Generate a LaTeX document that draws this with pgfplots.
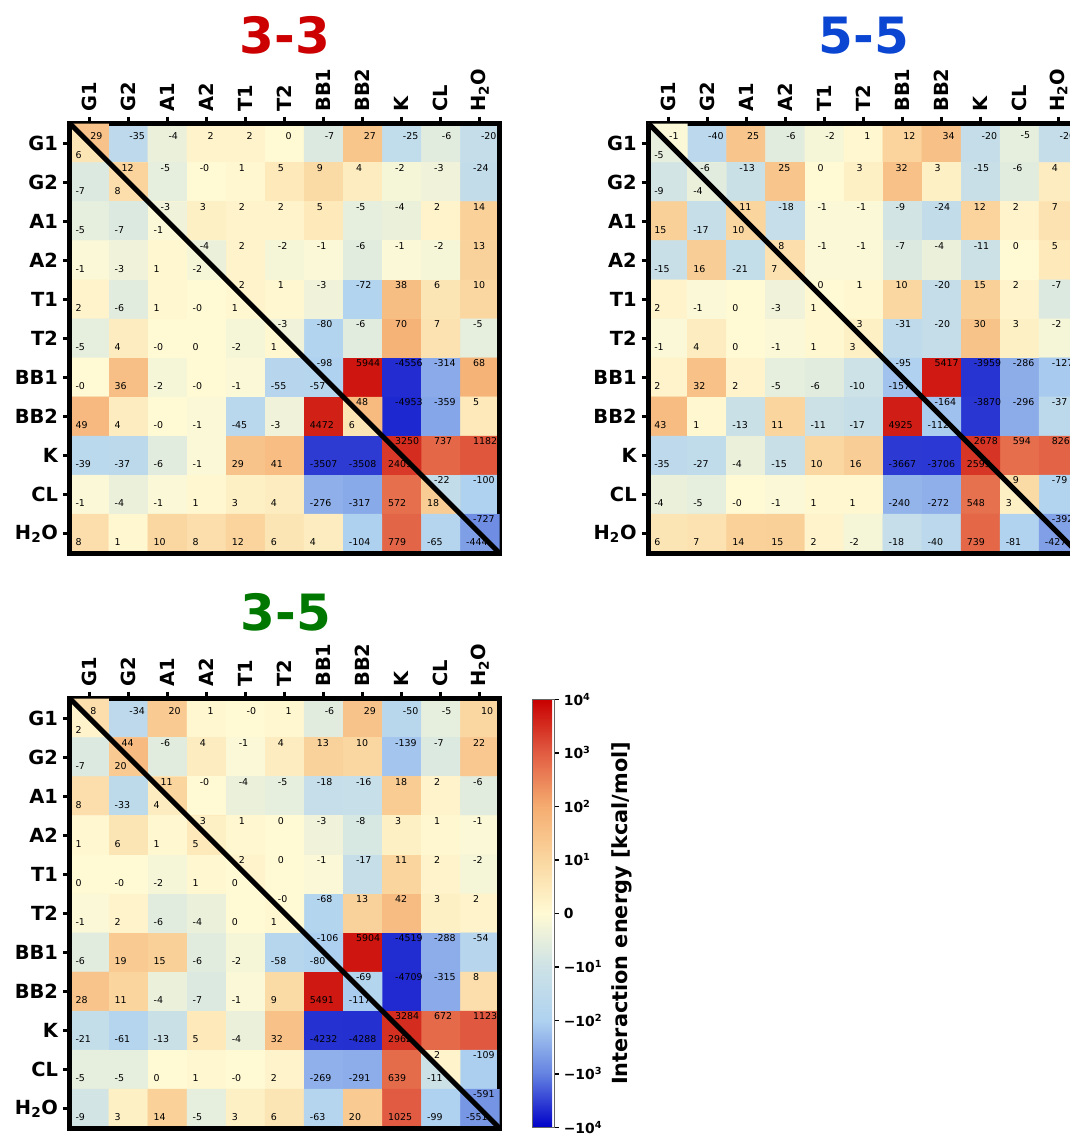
\documentclass[border=0pt]{standalone}
\usepackage{fontspec}
\setmainfont{DejaVu Sans}
\usepackage{pgfplots}
\usepackage{pgfplotstable}
\pgfplotsset{compat=1.18}

\definecolor{c33}{RGB}{204,0,0}
\definecolor{c55}{RGB}{10,70,210}
\definecolor{c35}{RGB}{0,120,0}

\pgfdeclareplotmark{utri}{%
 \pgfpathmoveto{\pgfqpoint{-14.0625pt}{14.0625pt}}%
 \pgfpathlineto{\pgfqpoint{14.0625pt}{14.0625pt}}%
 \pgfpathlineto{\pgfqpoint{14.0625pt}{-14.0625pt}}%
 \pgfpathclose\pgfusepathqfill}

\def\symlog#1{ifthenelse(abs(#1)<10,(#1)/10,(#1)/max(abs(#1),1)*(1+log10(max(abs(#1),1)/10)))}
\def\RR{floor((\coordindex+0.5)/11)}
\def\CC{(\coordindex-11*floor((\coordindex+0.5)/11))}

% ---- 3-3 : cells (diagonal = lower value), row by row
\pgfplotstableread[row sep=\\]{
v\\
6\\ -35\\ -4\\ 2\\ 2\\ 0\\ -7\\ 27\\ -25\\ -6\\ -20\\
-7\\ 8\\ -5\\ -0\\ 1\\ 5\\ 9\\ 4\\ -2\\ -3\\ -24\\
-5\\ -7\\ -1\\ 3\\ 2\\ 2\\ 5\\ -5\\ -4\\ 2\\ 14\\
-1\\ -3\\ 1\\ -2\\ 2\\ -2\\ -1\\ -6\\ -1\\ -2\\ 13\\
2\\ -6\\ 1\\ -0\\ 1\\ 1\\ -3\\ -72\\ 38\\ 6\\ 10\\
-5\\ 4\\ -0\\ 0\\ -2\\ 1\\ -80\\ -6\\ 70\\ 7\\ -5\\
-0\\ 36\\ -2\\ -0\\ -1\\ -55\\ -57\\ 5944\\ -4556\\ -314\\ 68\\
49\\ 4\\ -0\\ -1\\ -45\\ -3\\ 4472\\ 6\\ -4953\\ -359\\ 5\\
-39\\ -37\\ -6\\ -1\\ 29\\ 41\\ -3507\\ -3508\\ 2409\\ 737\\ 1182\\
-1\\ -4\\ -1\\ 1\\ 3\\ 4\\ -276\\ -317\\ 572\\ 18\\ -100\\
8\\ 1\\ 10\\ 8\\ 12\\ 6\\ 4\\ -104\\ 779\\ -65\\ -444\\
}\MA
\pgfplotstableread[row sep=\\]{
u\\ 29\\ 12\\ -3\\ -4\\ 2\\ -3\\ -98\\ 48\\ 3250\\ -22\\ -727\\
}\DA

% ---- 5-5
\pgfplotstableread[row sep=\\]{
v\\
-5\\ -40\\ 25\\ -6\\ -2\\ 1\\ 12\\ 34\\ -20\\ -5\\ -20\\
-9\\ -4\\ -13\\ 25\\ 0\\ 3\\ 32\\ 3\\ -15\\ -6\\ 4\\
15\\ -17\\ 10\\ -18\\ -1\\ -1\\ -9\\ -24\\ 12\\ 2\\ 7\\
-15\\ 16\\ -21\\ 7\\ -1\\ -1\\ -7\\ -4\\ -11\\ 0\\ 5\\
2\\ -1\\ 0\\ -3\\ 1\\ 1\\ 10\\ -20\\ 15\\ 2\\ -7\\
-1\\ 4\\ 0\\ -1\\ 1\\ 3\\ -31\\ -20\\ 30\\ 3\\ -2\\
2\\ 32\\ 2\\ -5\\ -6\\ -10\\ -157\\ 5417\\ -3959\\ -286\\ -127\\
43\\ 1\\ -13\\ 11\\ -11\\ -17\\ 4925\\ -112\\ -3870\\ -296\\ -37\\
-35\\ -27\\ -4\\ -15\\ 10\\ 16\\ -3667\\ -3706\\ 2593\\ 594\\ 826\\
-4\\ -5\\ -0\\ -1\\ 1\\ 1\\ -240\\ -272\\ 548\\ 3\\ -79\\
6\\ 7\\ 14\\ 15\\ 2\\ -2\\ -18\\ -40\\ 739\\ -81\\ -427\\
}\MB
\pgfplotstableread[row sep=\\]{
u\\ -1\\ -6\\ 11\\ 8\\ 0\\ 3\\ -95\\ -164\\ 2678\\ 9\\ -392\\
}\DB

% ---- 3-5
\pgfplotstableread[row sep=\\]{
v\\
2\\ -34\\ 20\\ 1\\ -0\\ 1\\ -6\\ 29\\ -50\\ -5\\ 10\\
-7\\ 20\\ -6\\ 4\\ -1\\ 4\\ 13\\ 10\\ -139\\ -7\\ 22\\
8\\ -33\\ 4\\ -0\\ -4\\ -5\\ -18\\ -16\\ 18\\ 2\\ -6\\
1\\ 6\\ 1\\ 5\\ 1\\ 0\\ -3\\ -8\\ 3\\ 1\\ -1\\
0\\ -0\\ -2\\ 1\\ 0\\ 0\\ -1\\ -17\\ 11\\ 2\\ -2\\
-1\\ 2\\ -6\\ -4\\ 0\\ 1\\ -68\\ 13\\ 42\\ 3\\ 2\\
-6\\ 19\\ 15\\ -6\\ -2\\ -58\\ -80\\ 5904\\ -4519\\ -288\\ -54\\
28\\ 11\\ -4\\ -7\\ -1\\ 9\\ 5491\\ -117\\ -4709\\ -315\\ 8\\
-21\\ -61\\ -13\\ 5\\ -4\\ 32\\ -4232\\ -4288\\ 2962\\ 672\\ 1123\\
-5\\ -5\\ 0\\ 1\\ -0\\ 2\\ -269\\ -291\\ 639\\ -11\\ -109\\
-9\\ 3\\ 14\\ -5\\ 3\\ 6\\ -63\\ 20\\ 1025\\ -99\\ -551\\
}\MC
\pgfplotstableread[row sep=\\]{
u\\ 8\\ 44\\ 11\\ 3\\ 2\\ -0\\ -106\\ -69\\ 3284\\ 2\\ -591\\
}\DC

\pgfplotsset{
 hm/.style={
  scale only axis, width=309.38pt, height=309.38pt,
  xmin=-0.5, xmax=10.5, ymin=-0.5, ymax=10.5, y dir=reverse,
  axis on top, clip=false,
  xtick={0,...,10}, ytick={0,...,10},
  xticklabels={G1,G2,A1,A2,T1,T2,BB1,BB2,K,CL,H\textsubscript{2}O},
  yticklabels={G1,G2,A1,A2,T1,T2,BB1,BB2,K,CL,H\textsubscript{2}O},
  xtick pos=upper, xticklabel pos=upper, ytick pos=left, yticklabel pos=left,
  tick align=outside, major tick length=5pt,
  tick style={black, line width=2.2pt},
  axis line style={line width=3.4pt},
  x tick label style={rotate=90, anchor=west, font=\bfseries\fontsize{14}{16}\selectfont},
  y tick label style={font=\bfseries\fontsize{14}{16}\selectfont},
 },
 every axis/.append style={
  colormap={sl}{rgb255(0cm)=(0,0,200); rgb255(1cm)=(100,130,225); rgb255(2cm)=(175,210,240); rgb255(3cm)=(205,226,230); rgb255(4cm)=(255,250,212); rgb255(5cm)=(250,215,160); rgb255(6cm)=(245,172,112); rgb255(7cm)=(225,92,66); rgb255(8cm)=(200,0,0)},
  point meta min=-4, point meta max=4,
 },
 lbl/.style={draw=none, mark=none, nodes near coords, point meta=explicit symbolic,
  nodes near coords style={anchor=west, inner sep=0pt, font=\fontsize{6.8}{8}\selectfont, text=black}},
}

\newcommand\heat[2]{%
 \addplot[matrix plot*, mesh/cols=11, shader=faceted, faceted color=mapped color, line width=0.3pt,
   point meta={\symlog{\thisrow{v}}}]
   table[x index=0, y index=0, x expr={\CC}, y expr={\RR}] {#1};
 \addplot[scatter, only marks, mark=utri, scatter/use mapped color={fill=mapped color, draw=none},
   point meta={\symlog{\thisrow{u}}}]
   table[x index=0, y index=0, x expr={\coordindex}, y expr={\coordindex}] {#2};
 \addplot[lbl] table[x index=0, y index=0, meta=v,
   x expr={\CC-0.5+ifthenelse(\CC>\RR, ifthenelse(\coordindex<11,0.52,0.32), 0.14)},
   y expr={\RR-0.5+ifthenelse(\CC>\RR, ifthenelse(\coordindex<11,0.31,0.13), ifthenelse(\coordindex<11,0.81,0.72))}] {#1};
 \addplot[lbl] table[x index=0, y index=0, meta=u,
   x expr={\coordindex-0.5+ifthenelse(\coordindex<1,0.52,0.32)},
   y expr={\coordindex-0.5+ifthenelse(\coordindex<1,0.31,0.13)}] {#2};
}

\begin{document}
\begin{tikzpicture}
\begin{axis}[hm, name=A, at={(50.26pt,-88.92pt)}, anchor=north west]
\heat{\MA}{\DA}
\end{axis}
\draw[line width=3.6pt] (A.north west) -- (A.south east);
\begin{axis}[hm, name=B, at={(466.92pt,-88.92pt)}, anchor=north west]
\heat{\MB}{\DB}
\end{axis}
\draw[line width=3.6pt] (B.north west) -- (B.south east);
\begin{axis}[hm, name=C, at={(50.26pt,-502.92pt)}, anchor=north west,
  colorbar,
  colorbar style={
   at={(parent axis.north east)}, anchor=north west, xshift=15.2pt, yshift=-0.58pt,
   scale only axis, width=15.55pt, height=308.2pt,
   ytick={-4,...,4},
   yticklabels={−10\textsuperscript{4},−10\textsuperscript{3},−10\textsuperscript{2},−10\textsuperscript{1},0,10\textsuperscript{1},10\textsuperscript{2},10\textsuperscript{3},10\textsuperscript{4}},
   yticklabel style={font=\bfseries\fontsize{10}{12}\selectfont},
   ytick pos=right, yticklabel pos=right,
   tick align=outside, major tick length=3.5pt, tick style={black, line width=1pt},
   axis line style={black!60, line width=0.8pt},
   ylabel={\bfseries\fontsize{15}{18}\selectfont Interaction energy [kcal/mol]},
   ylabel near ticks,
  }]
\heat{\MC}{\DC}
\end{axis}
\draw[line width=3.6pt] (C.north west) -- (C.south east);
\node[anchor=base, font=\bfseries\fontsize{36}{40}\selectfont, text=c33] at (205.2pt,-38.16pt) {3-3};
\node[anchor=base, font=\bfseries\fontsize{36}{40}\selectfont, text=c55] at (622.08pt,-38.16pt) {5-5};
\node[anchor=base, font=\bfseries\fontsize{36}{40}\selectfont, text=c35] at (205.9pt,-453.6pt) {3-5};
\pgfresetboundingbox
\useasboundingbox (0,0) rectangle (770.4pt,-817.2pt);
\end{tikzpicture}
\end{document}
